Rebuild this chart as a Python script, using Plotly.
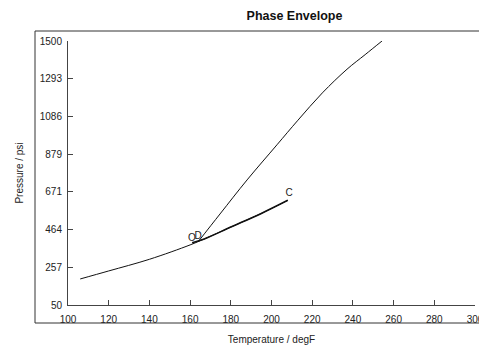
import plotly.graph_objects as go

# Data
bubble_T = [106, 120, 140, 160, 167, 180, 195, 208]
bubble_P = [193, 237, 301, 380, 413, 478, 553, 625]

bold_T = [161, 167, 180, 195, 208]
bold_P = [392, 413, 478, 553, 625]

dew_T = [164, 174.7, 188, 202.7, 213, 225, 237.1, 246, 254.3]
dew_P = [398, 550, 737, 930, 1065, 1215, 1345, 1425, 1500]

label_text = ["O", "D", "C"]
label_T = [160.9, 164.0, 208.6]
label_P = [413, 424, 665]

x_ticks = [100, 120, 140, 160, 180, 200, 220, 240, 260, 280, 300]
y_ticks = [50, 257, 464, 671, 879, 1086, 1293, 1500]

FONT = "Liberation Sans, Arial, sans-serif"
TXT = "#222222"

fig = go.Figure()
fig.add_trace(go.Scatter(x=bubble_T, y=bubble_P, mode="lines", line_shape="spline",
                         line=dict(color="#111111", width=1), hoverinfo="skip"))
fig.add_trace(go.Scatter(x=bold_T, y=bold_P, mode="lines", line_shape="spline",
                         line=dict(color="#111111", width=1.6), hoverinfo="skip"))
fig.add_trace(go.Scatter(x=dew_T, y=dew_P, mode="lines", line_shape="spline",
                         line=dict(color="#111111", width=1), hoverinfo="skip"))
fig.add_trace(go.Scatter(x=label_T, y=label_P, mode="text", text=label_text,
                         textfont=dict(family=FONT, size=10, color=TXT),
                         hoverinfo="skip", cliponaxis=False))

frame_left = -33 / 407
frame_right = 1.05
frame_bottom = -18 / 264
frame_top = 1 + 10 / 264
frame_line = dict(color="#333333", width=1)

fig.update_layout(
    width=479, height=345,
    margin=dict(l=68, r=4, t=41, b=40, autoexpand=False),
    paper_bgcolor="white", plot_bgcolor="white",
    showlegend=False,
    font=dict(family=FONT, size=10, color=TXT),
    title=dict(text="<b>Phase Envelope</b>", x=294.5 / 479, xanchor="center",
               y=1 - 16 / 345, yanchor="middle",
               font=dict(family=FONT, size=12.5, color="#111111")),
    xaxis=dict(range=[100, 300], tickvals=x_ticks, ticktext=[str(v) for v in x_ticks],
               automargin=False, ticklabeloverflow="allow",
               showgrid=False, zeroline=False, showline=True, linecolor="#444444",
               linewidth=1, ticks="inside", ticklen=5, tickcolor="#444444",
               ticklabelstandoff=5,
               tickfont=dict(family=FONT, size=10, color=TXT),
               title=dict(text="Temperature / degF", standoff=14,
                          font=dict(family=FONT, size=10, color=TXT))),
    yaxis=dict(range=[50, 1500], tickvals=y_ticks, ticktext=[str(v) for v in y_ticks],
               automargin=False, ticklabeloverflow="allow",
               showgrid=False, zeroline=False, showline=True, linecolor="#444444",
               linewidth=1, ticks="inside", ticklen=5, tickcolor="#444444",
               ticklabelstandoff=3,
               tickfont=dict(family=FONT, size=10, color=TXT),
               title=dict(text="Pressure / psi", standoff=14,
                          font=dict(family=FONT, size=10, color=TXT))),
    shapes=[
        dict(type="line", xref="paper", yref="paper", x0=frame_left, x1=frame_left,
             y0=frame_bottom, y1=frame_top, line=frame_line, layer="above"),
        dict(type="line", xref="paper", yref="paper", x0=frame_left, x1=frame_right,
             y0=frame_top, y1=frame_top, line=frame_line, layer="above"),
        dict(type="line", xref="paper", yref="paper", x0=frame_left, x1=frame_right,
             y0=frame_bottom, y1=frame_bottom, line=frame_line, layer="above"),
    ],
)

fig.write_html("out.html", config={"displayModeBar": False},
               post_script="document.body.style.margin='0px';document.body.style.padding='0px';")
